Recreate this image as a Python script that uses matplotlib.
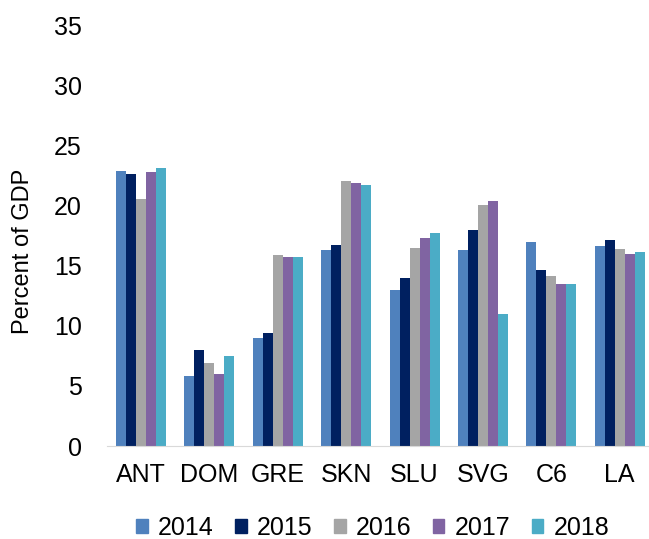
import numpy as np
import matplotlib
matplotlib.use('Agg')
import matplotlib.pyplot as plt
from matplotlib.patches import Patch

plt.rcParams['font.family'] = ['Liberation Sans', 'DejaVu Sans']

countries = ['ANT', 'DOM', 'GRE', 'SKN', 'SLU', 'SVG', 'C6', 'LA']
years = ['2014', '2015', '2016', '2017', '2018']
v2014 = [22.9, 5.8, 9.0, 16.3, 13.0, 16.3, 17.0, 16.6]
v2015 = [22.6, 8.0, 9.4, 16.7, 14.0, 18.0, 14.6, 17.1]
v2016 = [20.5, 6.9, 15.9, 22.0, 16.5, 20.0, 14.1, 16.4]
v2017 = [22.8, 6.0, 15.7, 21.9, 17.3, 20.4, 13.5, 16.0]
v2018 = [23.1, 7.5, 15.7, 21.7, 17.7, 11.0, 13.5, 16.1]
colors = ['#4F81BD', '#002060', '#A5A5A5', '#8064A2', '#4BACC6']

series = [v2014, v2015, v2016, v2017, v2018]

fig = plt.figure(figsize=(6.49, 5.39), dpi=100)
ax = fig.add_axes([0.1646, 0.1725, 0.843, 0.781])

x = np.arange(len(countries))
w = 0.146
for i, vals in enumerate(series):
    ax.bar(x + (i - 2) * w, vals, width=w, color=colors[i], label=years[i])

ax.set_xlim(-0.5, len(countries) - 0.5)
ax.set_ylim(0, 35)
ax.set_yticks(range(0, 36, 5))
ax.set_xticks(x)
ax.set_xticklabels(countries)
ax.tick_params(axis='both', length=0, labelsize=18, colors='#000000')
ax.tick_params(axis='y', pad=18)
ax.tick_params(axis='x', pad=12)
for s in ['top', 'right', 'left']:
    ax.spines[s].set_visible(False)
ax.spines['bottom'].set_color('#D9D9D9')

# y label placed by hand like the original
fig.text(23 / 649, 0.534, 'Percent of GDP', rotation=90, fontsize=17,
         ha='center', va='center')

handles = [Patch(color=c) for c in colors]
fig.legend(handles, years, loc='center', bbox_to_anchor=(0.574, 0.0204), ncol=5,
           frameon=False, fontsize=18, handlelength=0.47, handleheight=0.47,
           handletextpad=0.4, columnspacing=0.86)

fig.savefig('out.png', dpi=100)
